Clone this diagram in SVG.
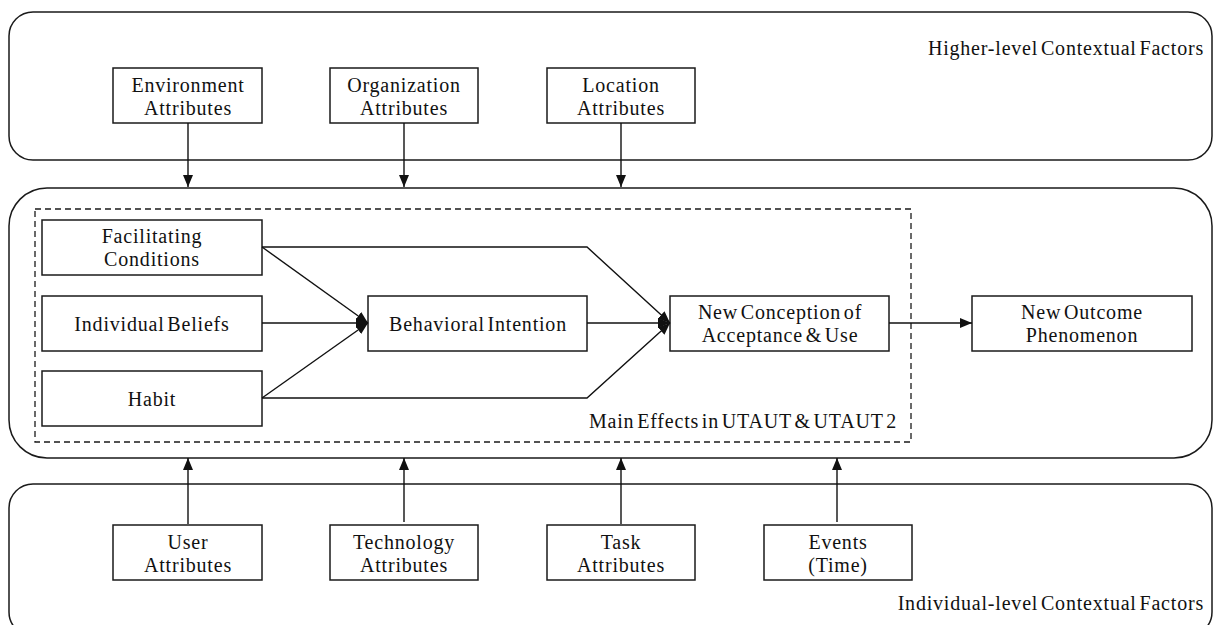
<svg xmlns="http://www.w3.org/2000/svg" width="1217" height="625" viewBox="0 0 1217 625">
  <style>
    .frame { fill: #fff; stroke: #1a1a1a; stroke-width: 1.5; }
    .box { fill: #fff; stroke: #1a1a1a; stroke-width: 1.5; }
    .dash { fill: none; stroke: #1a1a1a; stroke-width: 1.3; stroke-dasharray: 6 4; }
    .edge { fill: none; stroke: #111; stroke-width: 1.4; }
    text { font-family: "Liberation Serif", "Times New Roman", serif; font-size: 20px; fill: #111; letter-spacing: 0.8px; word-spacing: -3px; }
    .c { text-anchor: middle; }
    .r { text-anchor: end; }
  </style>
  <defs>
    <marker id="arrow" viewBox="0 0 12 10" refX="12" refY="5" markerWidth="12" markerHeight="10" markerUnits="userSpaceOnUse" orient="auto">
      <path d="M0,0 L12,5 L0,10 Z" fill="#111"/>
    </marker>
  </defs>

  <rect width="1217" height="625" fill="#fff"/>

  <!-- outer containers -->
  <g id="higher-level">
    <rect class="frame" x="9" y="12" width="1203" height="148" rx="24" ry="24"/>
    <text class="r" x="1204" y="55">Higher-level Contextual Factors</text>
  </g>
  <g id="main-model">
    <rect class="frame" x="9" y="188" width="1203" height="270" rx="38" ry="38"/>
  </g>
  <g id="individual-level">
    <rect class="frame" x="9" y="484" width="1203" height="152" rx="24" ry="24"/>
    <text class="r" x="1204" y="610">Individual-level Contextual Factors</text>
  </g>
  <g id="main-effects">
    <rect class="dash" x="35" y="209" width="876" height="233"/>
    <text class="r" x="897" y="428">Main Effects in UTAUT &amp; UTAUT 2</text>
  </g>

  <!-- higher-level attribute nodes -->
  <g id="environment">
    <rect class="box" x="113" y="68" width="149" height="55"/>
    <text class="c" x="188" y="92">Environment</text>
    <text class="c" x="188" y="115">Attributes</text>
  </g>
  <g id="organization">
    <rect class="box" x="330" y="68" width="148" height="55"/>
    <text class="c" x="404" y="92">Organization</text>
    <text class="c" x="404" y="115">Attributes</text>
  </g>
  <g id="location">
    <rect class="box" x="547" y="68" width="148" height="55"/>
    <text class="c" x="621" y="92">Location</text>
    <text class="c" x="621" y="115">Attributes</text>
  </g>

  <!-- core model nodes -->
  <g id="facilitating">
    <rect class="box" x="42" y="220" width="220" height="55"/>
    <text class="c" x="152" y="243">Facilitating</text>
    <text class="c" x="152" y="266">Conditions</text>
  </g>
  <g id="beliefs">
    <rect class="box" x="42" y="296" width="220" height="55"/>
    <text class="c" x="152" y="331">Individual Beliefs</text>
  </g>
  <g id="habit">
    <rect class="box" x="42" y="371" width="220" height="55"/>
    <text class="c" x="152" y="406">Habit</text>
  </g>
  <g id="intention">
    <rect class="box" x="368" y="296" width="219" height="55"/>
    <text class="c" x="478" y="331">Behavioral Intention</text>
  </g>
  <g id="acceptance">
    <rect class="box" x="670" y="296" width="219" height="55"/>
    <text class="c" x="780" y="319">New Conception of</text>
    <text class="c" x="780" y="342">Acceptance &amp; Use</text>
  </g>
  <g id="outcome">
    <rect class="box" x="972" y="296" width="220" height="55"/>
    <text class="c" x="1082" y="319">New Outcome</text>
    <text class="c" x="1082" y="342">Phenomenon</text>
  </g>

  <!-- individual-level attribute nodes -->
  <g id="user">
    <rect class="box" x="113" y="525" width="149" height="55"/>
    <text class="c" x="188" y="549">User</text>
    <text class="c" x="188" y="572">Attributes</text>
  </g>
  <g id="technology">
    <rect class="box" x="330" y="525" width="148" height="55"/>
    <text class="c" x="404" y="549">Technology</text>
    <text class="c" x="404" y="572">Attributes</text>
  </g>
  <g id="task">
    <rect class="box" x="547" y="525" width="148" height="55"/>
    <text class="c" x="621" y="549">Task</text>
    <text class="c" x="621" y="572">Attributes</text>
  </g>
  <g id="events">
    <rect class="box" x="764" y="525" width="148" height="55"/>
    <text class="c" x="838" y="549">Events</text>
    <text class="c" x="838" y="572">(Time)</text>
  </g>

  <!-- connectors -->
  <g id="connectors" marker-end="url(#arrow)">
    <line class="edge" x1="188" y1="123" x2="188" y2="187"/>
    <line class="edge" x1="404" y1="123" x2="404" y2="187"/>
    <line class="edge" x1="621" y1="123" x2="621" y2="187"/>

    <line class="edge" x1="188" y1="524" x2="188" y2="458"/>
    <line class="edge" x1="404" y1="522" x2="404" y2="458"/>
    <line class="edge" x1="621" y1="524" x2="621" y2="458"/>
    <line class="edge" x1="837" y1="522" x2="837" y2="458"/>

    <line class="edge" x1="262" y1="247" x2="368" y2="323"/>
    <line class="edge" x1="262" y1="323" x2="368" y2="323"/>
    <line class="edge" x1="262" y1="398" x2="368" y2="323"/>

    <polyline class="edge" points="262,247 587,247 670,323"/>
    <polyline class="edge" points="262,398 587,398 670,323"/>
    <line class="edge" x1="587" y1="323" x2="670" y2="323"/>

    <line class="edge" x1="889" y1="323" x2="972" y2="323"/>
  </g>
</svg>
